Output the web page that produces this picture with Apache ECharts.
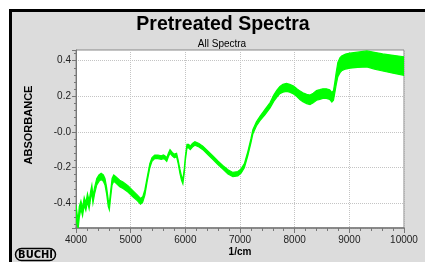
<!DOCTYPE html>
<html>
<head>
<meta charset="utf-8">
<script src="https://cdn.jsdelivr.net/npm/echarts@6/dist/echarts.min.js"></script>
<style>
  html, body { margin: 0; padding: 0; background: #fff; }
  #chart { width: 425px; height: 262px; }
</style>
</head>
<body>
<div id="chart"></div>
<script>
// wavenumber (1/cm)
const wavenumbers = [
  4000, 4020, 4040, 4060, 4090, 4120, 4150, 4180, 4210, 4240, 4270, 4290, 4310, 4340,
  4380, 4420, 4460, 4500, 4530, 4560, 4590, 4610, 4630, 4660, 4690, 4730, 4800, 4860,
  4950, 5050, 5120, 5180, 5220, 5260, 5300, 5350, 5390, 5440, 5500, 5560, 5600, 5630,
  5660, 5690, 5720, 5760, 5800, 5840, 5870, 5900, 5930, 5955, 5980, 6000, 6030, 6060,
  6090, 6130, 6175, 6250, 6320, 6420, 6505, 6600, 6690, 6780, 6870, 6960, 7020, 7080,
  7145, 7200, 7235, 7300, 7365, 7455, 7550, 7620, 7675, 7730, 7785, 7850, 7910, 7980,
  8040, 8100, 8150, 8220, 8280, 8340, 8400, 8460, 8515, 8580, 8640, 8680, 8710, 8735,
  8760, 8790, 8830, 8860, 8930, 9010, 9150, 9320, 9460, 9610, 9800, 10000
];
// mean absorbance of the spectra
const meanAbs = [
  -0.44, -0.49, -0.52, -0.45, -0.41, -0.45, -0.39, -0.42, -0.37, -0.41, -0.35, -0.32, -0.38, -0.33,
  -0.28, -0.26, -0.25, -0.26, -0.28, -0.33, -0.40, -0.42, -0.36, -0.28, -0.26, -0.27, -0.29, -0.30,
  -0.32, -0.35, -0.37, -0.39, -0.38, -0.34, -0.27, -0.19, -0.155, -0.14, -0.14, -0.145, -0.14, -0.145,
  -0.155, -0.13, -0.11, -0.125, -0.135, -0.13, -0.17, -0.22, -0.26, -0.28, -0.22, -0.15, -0.08, -0.08,
  -0.09, -0.075, -0.065, -0.075, -0.09, -0.12, -0.145, -0.175, -0.20, -0.225, -0.24, -0.235, -0.22, -0.19,
  -0.12, -0.05, 0.0, 0.045, 0.075, 0.11, 0.15, 0.19, 0.215, 0.235, 0.245, 0.25, 0.245, 0.235,
  0.22, 0.205, 0.195, 0.185, 0.18, 0.19, 0.205, 0.21, 0.215, 0.215, 0.21, 0.195, 0.205, 0.25,
  0.30, 0.35, 0.375, 0.385, 0.395, 0.40, 0.405, 0.41, 0.40, 0.39, 0.38, 0.37
];
// half width of the band of spectra
const spreadAbs = [
  0.03, 0.03, 0.022, 0.03, 0.022, 0.022, 0.022, 0.022, 0.022, 0.022, 0.02, 0.02, 0.02, 0.018,
  0.018, 0.018, 0.018, 0.018, 0.018, 0.018, 0.018, 0.018, 0.018, 0.018, 0.018, 0.018, 0.018, 0.018,
  0.018, 0.017, 0.016, 0.016, 0.015, 0.015, 0.012, 0.012, 0.01, 0.01, 0.01, 0.01, 0.01, 0.01,
  0.01, 0.01, 0.01, 0.01, 0.01, 0.01, 0.01, 0.012, 0.012, 0.012, 0.012, 0.012, 0.01, 0.01,
  0.01, 0.01, 0.01, 0.01, 0.01, 0.01, 0.01, 0.01, 0.01, 0.012, 0.012, 0.012, 0.012, 0.012,
  0.012, 0.012, 0.012, 0.012, 0.012, 0.015, 0.015, 0.018, 0.02, 0.02, 0.022, 0.022, 0.022, 0.022,
  0.022, 0.024, 0.025, 0.026, 0.027, 0.027, 0.027, 0.027, 0.027, 0.027, 0.027, 0.027, 0.027, 0.03,
  0.035, 0.04, 0.042, 0.042, 0.042, 0.042, 0.043, 0.045, 0.047, 0.048, 0.05, 0.052
];
const xTicks = { min: 4000, max: 10000, step: 1000 };
const yRange = { min: -0.54, max: 0.46 };

const upperData = wavenumbers.map((w, i) => [w, meanAbs[i] + spreadAbs[i]]);
const lowerData = wavenumbers.map((w, i) => [w, meanAbs[i] - spreadAbs[i]]);

const GREEN = '#00ff00';
const FONT = 'Arial, "Liberation Sans", sans-serif';

// band of spectra: polygon through upper edge and back along lower edge
function renderBand(params, api) {
  if (params.dataIndex !== 0) return;
  const pts = upperData.map(p => api.coord(p))
    .concat(lowerData.slice().reverse().map(p => api.coord(p)));
  return {
    type: 'polygon',
    shape: { points: pts },
    style: { fill: GREEN, stroke: GREEN, lineWidth: 1.2 }
  };
}

const chart = echarts.init(document.getElementById('chart'));
chart.setOption({
  backgroundColor: '#fff',
  animation: false,
  graphic: [
    { type: 'rect', shape: { x: 10, y: 10, width: 420, height: 260 }, style: { fill: '#dcdcdc' }, z: -10 },
    { type: 'line', shape: { x1: 9, y1: 10.5, x2: 425, y2: 10.5 }, style: { stroke: '#000', lineWidth: 3 }, z: -5 },
    { type: 'line', shape: { x1: 10.5, y1: 9, x2: 10.5, y2: 262 }, style: { stroke: '#000', lineWidth: 3 }, z: -5 },
    {
      type: 'text', x: 223, y: 25,
      style: { text: 'Pretreated Spectra', font: 'bold 19.5px ' + FONT, fill: '#000', align: 'center', verticalAlign: 'middle' }
    },
    {
      type: 'text', x: 222, y: 44,
      style: { text: 'All Spectra', font: '10px ' + FONT, fill: '#000', align: 'center', verticalAlign: 'middle' }
    },
    {
      type: 'text', x: 29, y: 125, rotation: Math.PI / 2,
      style: { text: 'ABSORBANCE', font: 'bold 11px ' + FONT, fill: '#000', align: 'center', verticalAlign: 'middle' }
    },
    {
      type: 'text', x: 240, y: 252,
      style: { text: '1/cm', font: 'bold 10px ' + FONT, fill: '#000', align: 'center', verticalAlign: 'middle' }
    },
    {
      type: 'rect', shape: { x: 15.5, y: 248.5, width: 40, height: 12, r: 6 },
      style: { fill: 'none', stroke: '#000', lineWidth: 1.5 }
    },
    {
      type: 'text', x: 35.5, y: 255,
      style: { text: 'BUCHI', font: 'bold 11px "Liberation Sans Narrow", "DejaVu Sans Condensed", sans-serif', fill: '#000', align: 'center', verticalAlign: 'middle' }
    }
  ],
  grid: {
    left: 76, right: 21, top: 50, bottom: 34,
    show: true, backgroundColor: '#fff', borderColor: '#888', borderWidth: 1
  },
  xAxis: {
    type: 'value',
    min: xTicks.min, max: xTicks.max, interval: xTicks.step,
    axisLine: { onZero: false, lineStyle: { color: '#777', width: 1.5 } },
    axisTick: { show: true, length: 5, lineStyle: { color: '#777' } },
    minorTick: { show: true, splitNumber: 5, length: 3, lineStyle: { color: '#777' } },
    axisLabel: { color: '#222', fontSize: 10, fontFamily: FONT, margin: 7, formatter: v => String(v) },
    splitLine: { show: true, lineStyle: { color: '#c4c4c4', type: 'dotted' } }
  },
  yAxis: {
    type: 'value',
    min: yRange.min, max: yRange.max, splitNumber: 5,
    axisLine: { show: true, onZero: false, lineStyle: { color: '#777' } },
    axisTick: { show: true, length: 4, lineStyle: { color: '#777' } },
    minorTick: { show: true, splitNumber: 5, length: 2, lineStyle: { color: '#777' } },
    axisLabel: {
      color: '#222', fontSize: 10, fontFamily: FONT, margin: 5,
      showMinLabel: false, showMaxLabel: false,
      formatter: v => (Math.abs(v) < 1e-9 ? '-0.0' : v.toFixed(1))
    },
    splitLine: { show: true, lineStyle: { color: '#c4c4c4', type: 'dotted' } }
  },
  series: [
    {
      type: 'custom',
      coordinateSystem: 'cartesian2d',
      renderItem: renderBand,
      data: [upperData[0]],
      clip: true,
      silent: true
    }
  ]
});
</script>
</body>
</html>
